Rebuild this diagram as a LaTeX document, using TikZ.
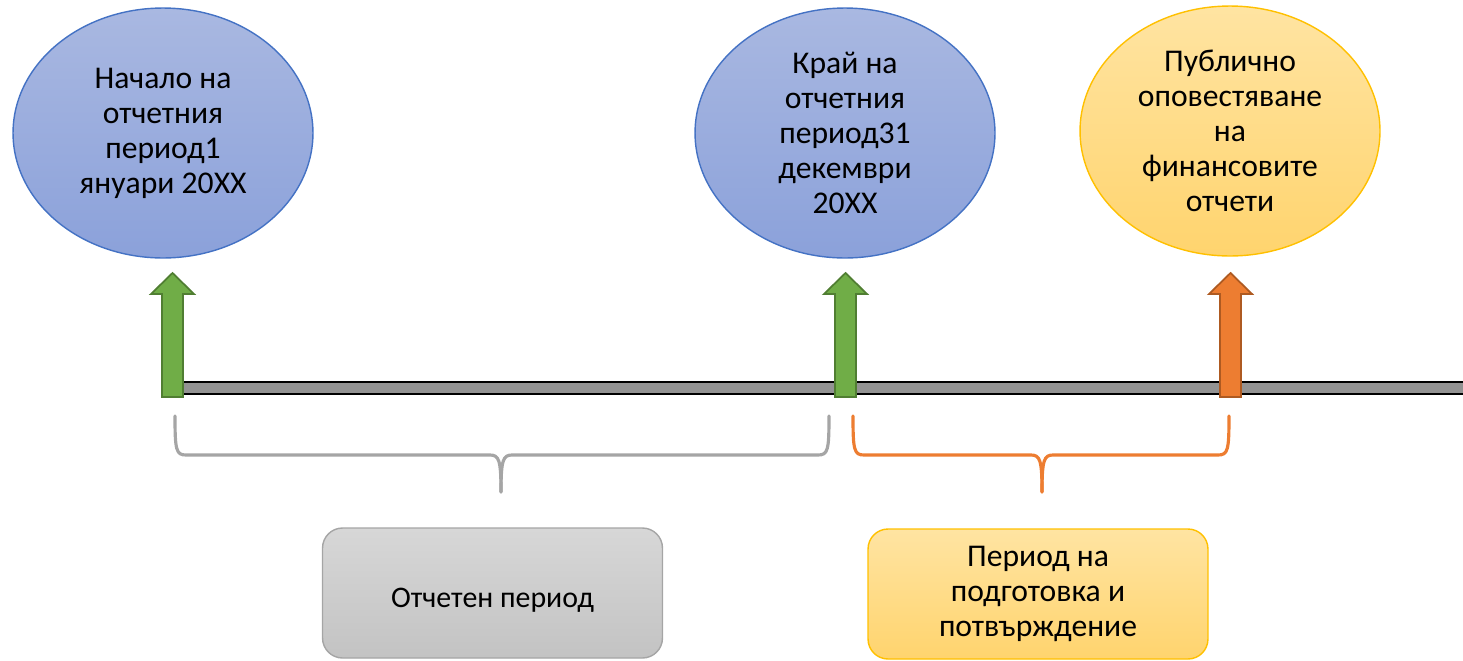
\documentclass[tikz,border=0pt]{standalone}
\usepackage{fontspec}
\setmainfont{Carlito}
\usetikzlibrary{shapes.geometric}

\definecolor{blueTop}{HTML}{A9B8E1}
\definecolor{blueBot}{HTML}{8BA1DA}
\definecolor{blueLine}{HTML}{4472C4}
\definecolor{goldTop}{HTML}{FFE4A2}
\definecolor{goldBot}{HTML}{FFD46E}
\definecolor{goldLine}{HTML}{FFC000}
\definecolor{greyTop}{HTML}{D7D7D7}
\definecolor{greyBot}{HTML}{C3C3C3}
\definecolor{greyLine}{HTML}{A5A5A5}
\definecolor{barFill}{HTML}{939393}
\definecolor{greenFill}{HTML}{70AD47}
\definecolor{greenLine}{HTML}{507E32}
\definecolor{orangeFill}{HTML}{ED7D31}
\definecolor{orangeLine}{HTML}{AE5A21}

\begin{document}
\begin{tikzpicture}[x=0.02cm,y=-0.02cm]
        \tikzstyle{every node} = [align=center, font=\fontsize{18}{19.9}\selectfont]
        \tikzstyle{event} = [ellipse, minimum width=6cm, minimum height=5cm, inner sep=0pt, line width=0.8pt]
        \tikzstyle{phase} = [rectangle, rounded corners=0.4cm, minimum width=6.8cm, minimum height=2.6cm, line width=0.8pt]
        \tikzstyle{blockarrow} = [line width=1pt, line join=miter]
        \tikzstyle{span} = [line width=1.8pt, line cap=round]
        \useasboundingbox (0,0) rectangle (1463,660);

        % events
        \node[event, draw=blueLine, top color=blueTop, bottom color=blueBot] (start) at (163,133)
                {Начало на\\отчетния\\период1\\януари 20XX};
        \node[event, draw=blueLine, top color=blueTop, bottom color=blueBot] (end) at (845,133)
                {Край на\\отчетния\\период31\\декември\\20XX};
        \node[event, draw=goldLine, top color=goldTop, bottom color=goldBot] (publish) at (1230,131)
                {Публично\\оповестяване\\на\\финансовите\\отчети};

        % time line
        \draw[line width=1.5pt, fill=barFill] (165,382) rectangle (1480,394);

        \coordinate (t0) at (172.5,397);
        \coordinate (t1) at (845.5,397);
        \coordinate (t2) at (1230.5,397);

        \draw[blockarrow, draw=greenLine, fill=greenFill] (t0) ++(-10.5,0) -- ++(0,-103) -- ++(-11,0)
                -- ++(21.5,-21) -- ++(21.5,21) -- ++(-11,0) -- ++(0,103) -- cycle;
        \draw[blockarrow, draw=greenLine, fill=greenFill] (t1) ++(-10.5,0) -- ++(0,-103) -- ++(-11,0)
                -- ++(21.5,-21) -- ++(21.5,21) -- ++(-11,0) -- ++(0,103) -- cycle;
        \draw[blockarrow, draw=orangeLine, fill=orangeFill] (t2) ++(-10.5,0) -- ++(0,-103) -- ++(-11,0)
                -- ++(21.5,-21) -- ++(21.5,21) -- ++(-11,0) -- ++(0,103) -- cycle;

        % braces
        \draw[span, greyLine] (175,416) .. controls (175,450) and (176,455) .. (186,455) -- (490,455)
                .. controls (499,455) and (501,460) .. (501,492);
        \draw[span, greyLine] (829,416) .. controls (829,450) and (828,455) .. (818,455) -- (512,455)
                .. controls (503,455) and (501,460) .. (501,492);
        \draw[span, orangeFill] (853,416) .. controls (853,450) and (854,455) .. (864,455) -- (1031,455)
                .. controls (1040,455) and (1042,460) .. (1042,492);
        \draw[span, orangeFill] (1229,416) .. controls (1229,450) and (1228,455) .. (1218,455) -- (1053,455)
                .. controls (1044,455) and (1042,460) .. (1042,492);

        % phases
        \node[phase, draw=greyLine, top color=greyTop, bottom color=greyBot,
                font=\fontsize{17}{19.9}\selectfont] (report) at (492.5,593)
                {\raisebox{-4pt}[\height][\depth]{Отчетен период}};
        \node[phase, draw=goldLine, top color=goldTop, bottom color=goldBot] (prepare) at (1038,594)
                {Период на\\подготовка и\\потвърждение};
\end{tikzpicture}
\end{document}
